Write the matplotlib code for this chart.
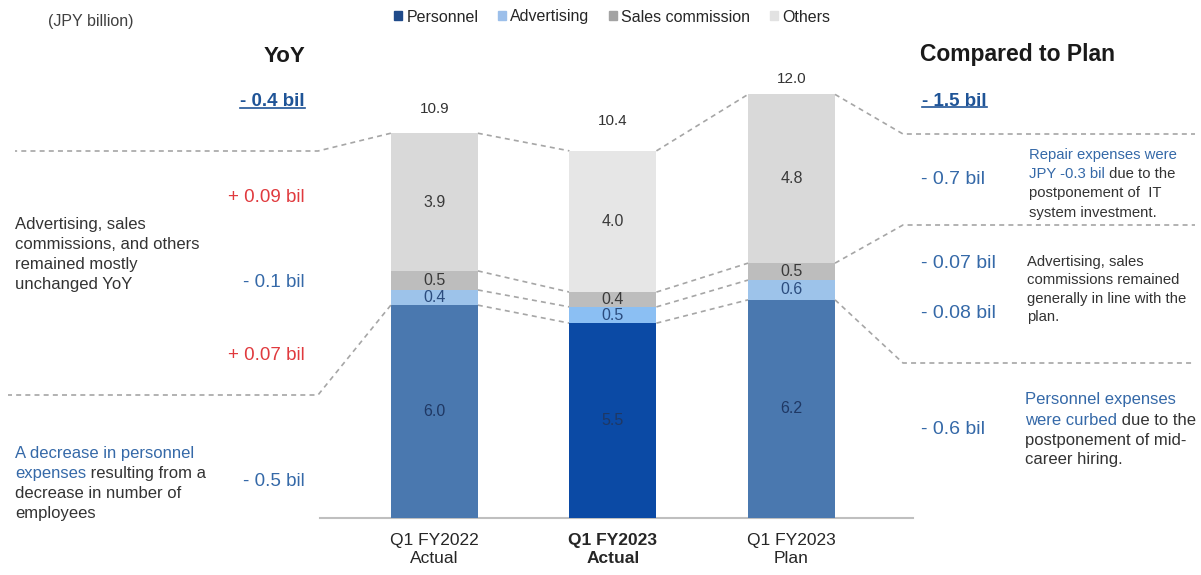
import matplotlib.pyplot as plt
from matplotlib.patches import Patch
from matplotlib.lines import Line2D
import numpy as np

plt.rcParams['font.family'] = ['Liberation Sans', 'DejaVu Sans']

# data (JPY billion)
categories = ["Q1 FY2022\nActual", "Q1 FY2023\nActual", "Q1 FY2023\nPlan"]
personnel = [6.03, 5.52, 6.18]
advertising = [0.43, 0.46, 0.56]
sales_commission = [0.54, 0.42, 0.48]
others = [3.90, 4.00, 4.78]
series_names = ["Personnel", "Advertising", "Sales commission", "Others"]

yoy_total = "- 0.4 bil"
yoy_items = ["+ 0.09 bil", "- 0.1 bil", "+ 0.07 bil", "- 0.5 bil"]
plan_total = "- 1.5 bil"
plan_items = ["- 0.7 bil", "- 0.07 bil", "- 0.08 bil", "- 0.6 bil"]

W, H = 1201, 575
fig = plt.figure(figsize=(W / 100, H / 100), dpi=100)

# colours, per bar (middle bar is highlighted)
c_pers = ["#4A78AF", "#0B4AA5", "#4A78AF"]
c_adv = ["#9DC3EA", "#8BBFF3", "#9DC3EA"]
c_sales = ["#BDBDBD", "#BDBDBD", "#BDBDBD"]
c_oth = ["#D9D9D9", "#E6E6E6", "#D9D9D9"]
dark = "#333333"
blue = "#3569A8"
blue_u = "#1F5497"
red = "#E03A3E"
dash_c = "#A6A6A6"
dash = (0, (3, 2.5))

# axes placed in pixels: baseline at y=518, 35.3 px per billion
ymax = 13
ax = fig.add_axes([320 / W, (H - 518) / H, 593 / W, ymax * 35.3 / H])
ax.set_xlim(-0.64, 2.68)
ax.set_ylim(0, ymax)

x = np.arange(len(categories))
bw = 0.487
pers = np.array(personnel)
adv = np.array(advertising)
sal = np.array(sales_commission)
oth = np.array(others)
b1 = pers
b2 = b1 + adv
b3 = b2 + sal
tot = b3 + oth

r1 = ax.bar(x, pers, bw, color=c_pers, zorder=3)
r2 = ax.bar(x, adv, bw, bottom=b1, color=c_adv, zorder=3)
r3 = ax.bar(x, sal, bw, bottom=b2, color=c_sales, zorder=3)
r4 = ax.bar(x, oth, bw, bottom=b3, color=c_oth, zorder=3)

ax.bar_label(r1, labels=[f"{v:.1f}" for v in pers], label_type="center", color="#1F3864", fontsize=11.5)
ax.bar_label(r2, labels=[f"{v:.1f}" for v in adv], label_type="center", color="#2B4C7E", fontsize=11.5)
ax.bar_label(r3, labels=[f"{v:.1f}" for v in sal], label_type="center", color="#3A3A3A", fontsize=11.5)
ax.bar_label(r4, labels=[f"{v:.1f}" for v in oth], label_type="center", color="#3A3A3A", fontsize=11.5)

label_gap = [0.68, 0.85, 0.45]
for i in range(len(x)):
    ax.text(x[i], tot[i] + label_gap[i], f"{tot[i]:.1f}", ha="center", va="center",
            fontsize=11, color=dark)

# dashed connectors between neighbouring bars
for lev in [b1, b2, b3, tot]:
    for i in range(len(x) - 1):
        ax.plot([x[i] + bw / 2, x[i + 1] - bw / 2], [lev[i], lev[i + 1]],
                color=dash_c, lw=1.2, ls=dash, zorder=2)

ax.set_xticks(x, categories, fontsize=12.5, color="#262626")
ax.get_xticklabels()[1].set_fontweight("bold")
ax.tick_params(axis="x", length=0, pad=11)
ax.set_yticks([])
for s in ["top", "left", "right"]:
    ax.spines[s].set_visible(False)
ax.spines["bottom"].set_color("#BFBFBF")
ax.spines["bottom"].set_linewidth(1.5)

# bracket lines from bars out to the side panels
to_fig = ax.transData + fig.transFigure.inverted()


def bracket(data_pt, bend_px, end_px):
    p0 = to_fig.transform(data_pt)
    xs = [p0[0], bend_px[0] / W, end_px[0] / W]
    ys = [p0[1], 1 - bend_px[1] / H, 1 - end_px[1] / H]
    fig.add_artist(Line2D(xs, ys, transform=fig.transFigure, color=dash_c, lw=1.2, ls=dash))


left = x[0] - bw / 2
right = x[2] + bw / 2
bracket((left, tot[0]), (318, 151), (15, 151))
bracket((left, b1[0]), (318, 395), (8, 395))
bracket((right, tot[2]), (903, 134), (1195, 134))
bracket((right, b3[2]), (903, 225), (1195, 225))
bracket((right, b1[2]), (903, 363), (1195, 363))

# legend
handles = [Patch(color=c) for c in ["#1F4A8A", "#9CBFEA", "#A3A3A3", "#E2E2E2"]]
fig.legend(handles, series_names, loc="center", bbox_to_anchor=(612 / W, 1 - 17 / H),
           ncol=4, frameon=False, fontsize=11.5, handlelength=0.5, handleheight=0.5,
           handletextpad=0.3, columnspacing=1.2, labelcolor="#262626")


def txt(px, py, s, **kw):
    kw.setdefault("va", "center_baseline")
    return fig.text(px / W, 1 - py / H, s, **kw)


def rich(px, py, parts, size):
    t = txt(px, py, parts[0][0], color=parts[0][1], fontsize=size, ha="left")
    for s, c in parts[1:]:
        t = ax.annotate(s, xy=(1, 0), xycoords=t, va="bottom", ha="left",
                        color=c, fontsize=size)


txt(48, 20, "(JPY billion)", fontsize=11.5, color="#404040")

# YoY side
txt(305, 54, "YoY", fontsize=16, fontweight="bold", color="#1a1a1a", ha="right")
u1 = txt(305, 100, yoy_total, fontsize=13.5, fontweight="bold", color=blue_u, ha="right")
yoy_y = [195, 280, 353, 479]
yoy_c = [red, blue, red, blue]
for s, yy, cc in zip(yoy_items, yoy_y, yoy_c):
    txt(305, yy, s, fontsize=13.5, color=cc, ha="right")

for i, s in enumerate(["Advertising, sales", "commissions, and others",
                       "remained mostly", "unchanged YoY"]):
    rich(15, 223 + 20 * i, [(s, dark)], 12)
rich(15, 452, [("A decrease in personnel", blue)], 12)
rich(15, 472, [("expenses", blue), (" resulting from a", dark)], 12)
rich(15, 492, [("decrease in number of", dark)], 12)
rich(15, 512, [("employees", dark)], 12)

# plan side
txt(920, 52, "Compared to Plan", fontsize=16.5, fontweight="bold", color="#1a1a1a", ha="left")
u2 = txt(922, 99, plan_total, fontsize=13.5, fontweight="bold", color=blue_u, ha="left")
plan_y = [178, 262, 312, 427]
for s, yy in zip(plan_items, plan_y):
    txt(921, yy, s, fontsize=14, color=blue, ha="left")

rich(1029, 154, [("Repair expenses were", blue)], 10.7)
rich(1029, 173, [("JPY -0.3 bil", blue), (" due to the", dark)], 10.7)
rich(1029, 192, [("postponement of  IT", dark)], 10.7)
rich(1029, 211, [("system investment.", dark)], 10.7)

for i, s in enumerate(["Advertising, sales", "commissions remained",
                       "generally in line with the", "plan."]):
    rich(1027, 260 + 18.5 * i, [(s, dark)], 10.7)

rich(1025, 398, [("Personnel expenses", blue)], 12)
rich(1025, 419, [("were curbed", blue), (" due to the", dark)], 12)
rich(1025, 439, [("postponement of mid-", dark)], 12)
rich(1025, 458, [("career hiring.", dark)], 12)

# underline the two headline numbers
fig.canvas.draw()
rend = fig.canvas.get_renderer()
for t in [u1, u2]:
    bb = t.get_window_extent(rend)
    fig.add_artist(Line2D([bb.x0 / W, bb.x1 / W], [(bb.y0 + 2.5) / H] * 2,
                          transform=fig.transFigure, color=blue_u, lw=1.2))

fig.savefig("out.png", dpi=100, facecolor="white")
